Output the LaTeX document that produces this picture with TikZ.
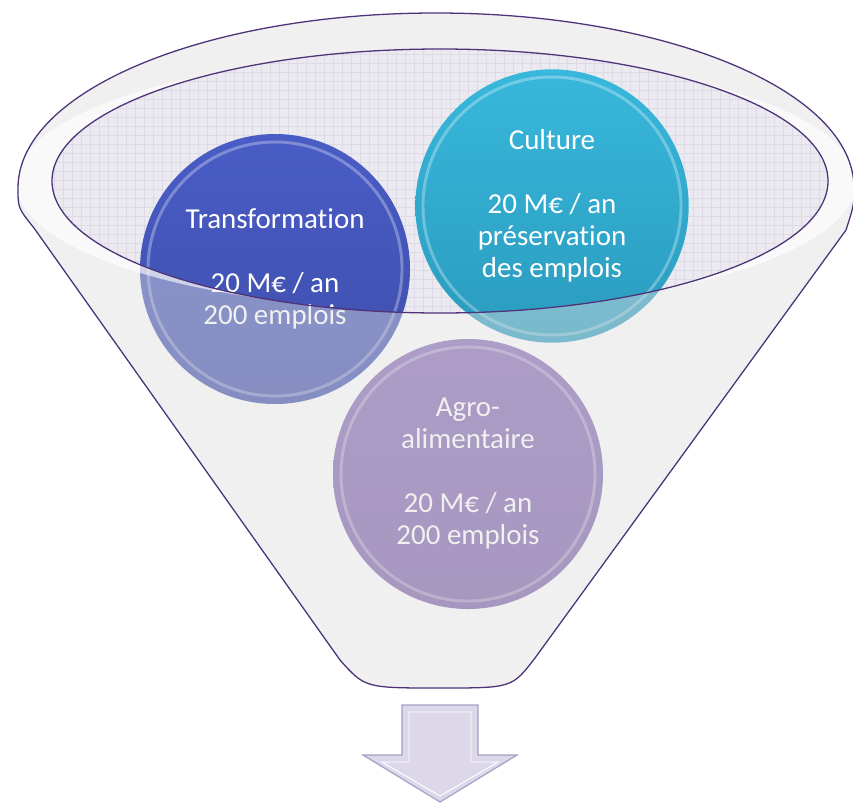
\documentclass[tikz,border=0pt]{standalone}
\usepackage{fontspec}
\setmainfont{Carlito}[Ligatures=NoCommon]
\definecolor{transfoh}{HTML}{4A5DC6}
\definecolor{transfob}{HTML}{3D4DAA}
\definecolor{culth}{HTML}{38B8DC}
\definecolor{cultb}{HTML}{2A9BBE}
\definecolor{agroh}{HTML}{8468B4}
\definecolor{agrob}{HTML}{7A5EA8}
\definecolor{bord}{HTML}{4E3379}
\definecolor{fond}{HTML}{ECEAF1}
\definecolor{grille}{HTML}{DEDBE7}
\definecolor{voile}{HTML}{DEDEDE}
\definecolor{fleche}{HTML}{DCD8EA}
\definecolor{flechebord}{HTML}{A69EC6}
\newcommand{\entonnoir}{(18,188) .. controls (18,91) and (205,13) .. (436,13)
  .. controls (667,13) and (854,91) .. (854,188)
  .. controls (854,205) .. (846,230) -- (535,658)
  .. controls (512,688) .. (440,688) .. controls (365,688) .. (340,660)
  -- (34,228) .. controls (18,208) .. (18,188) -- cycle}

\begin{document}
\begin{tikzpicture}[x=0.03cm, y=-0.03cm,
  bulle/.style={circle, minimum size=8.1cm, inner sep=0pt, text=white, align=center,
    font=\fontsize{24.7}{27.3}\selectfont},
  reflet/.style={draw=white, draw opacity=0.3, line width=2.5pt}]
  \useasboundingbox (0,0) rectangle (853,803);

  \fill[white] \entonnoir;
  \begin{scope}
    \clip (440,181) ellipse [x radius=388, y radius=132];
    \fill[fond] (50,45) rectangle (830,315);
    \draw[grille, line width=0.3pt, step=0.27cm] (50,315) grid (830,45);
  \end{scope}

  \node[bulle, top color=transfoh, bottom color=transfob] (transfo) at (275,269)
    {Transformation\\[27.3pt]20 M€ / an\\200 emplois};
  \node[bulle, minimum size=8.2cm, top color=culth, bottom color=cultb] (culture) at (552,206)
    {Culture\\[27.3pt]20 M€ / an\\préservation\\des emplois};
  \node[bulle, top color=agroh, bottom color=agrob] (agro) at (468,474)
    {Agro-\\alimentaire\\[27.3pt]20 M€ / an\\200 emplois};
  \draw[reflet] (transfo.center) circle [radius=127];
  \draw[reflet] (culture.center) circle [radius=129];
  \draw[reflet] (agro.center) circle [radius=127];

  \fill[voile, fill opacity=0.45, even odd rule] \entonnoir
    (440,181) ellipse [x radius=388, y radius=132];
  \begin{scope}
    \clip (436,182) ellipse [x radius=420, y radius=128];
    \fill[white, fill opacity=0.6, even odd rule] \entonnoir
      (440,181) ellipse [x radius=388, y radius=132];
  \end{scope}
  \draw[bord, line width=1.1pt] (440,181) ellipse [x radius=388, y radius=132];
  \draw[bord, line width=1.1pt] \entonnoir;

  \filldraw[fill=fleche, draw=flechebord, line width=1pt] (402,705) -- (478,705) -- (478,755)
    -- (517,755) -- (440,802) -- (363,755) -- (402,755) -- cycle;
  \draw[white, line width=0.8pt] (409,712) -- (471,712) -- (471,762) -- (498,762)
    -- (440,796) -- (382,762) -- (409,762) -- cycle;
\end{tikzpicture}
\end{document}
